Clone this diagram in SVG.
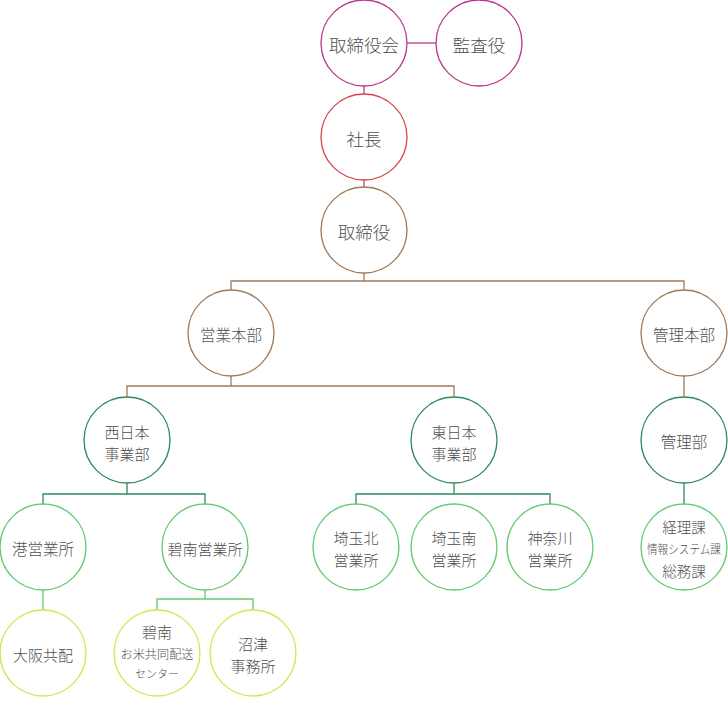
<svg xmlns="http://www.w3.org/2000/svg" width="728" height="707" viewBox="0 0 728 707">
<style>
  circle { fill: #ffffff; stroke-width: 1.3; }
  .c-mag { stroke: #b8388a; }
  .c-red { stroke: #d6454f; }
  .c-brn { stroke: #a07a58; }
  .c-dg { stroke: #2e8a5e; }
  .c-lg { stroke: #63c96e; }
  .c-yl { stroke: #dde050; }
  .conn path { fill: none; stroke-width: 1.3; }
  text { font-family: "Noto Sans CJK JP", "Noto Sans", sans-serif; font-weight: 300; fill: #505050; text-anchor: middle; dominant-baseline: central; }
  .t18 { font-size: 17.5px; }
  .t16 { font-size: 15.5px; }
  .t15 { font-size: 15px; }
  .t14 { font-size: 14.5px; }
  .t13 { font-size: 12.5px; }
  .t12 { font-size: 12.5px; }
  .t11 { font-size: 11px; }
</style>
<rect width="728" height="707" fill="#ffffff"/>
<g id="connectors" class="conn">
  <path d="M407 43 H436" stroke="#b8388a"/>
  <path d="M364 86 V94" stroke="#b8388a"/>
  <path d="M364 180 V187" stroke="#d6454f"/>
  <path d="M364 273 V281 M231 290 V281 H684 V290" stroke="#a07a58"/>
  <path d="M231 376 V386 M127 397 V386 H454 V397" stroke="#a07a58"/>
  <path d="M684 376 V397" stroke="#a07a58"/>
  <path d="M127 483 V494 M43 504 V494 H205 V504" stroke="#2e8a5e"/>
  <path d="M454 483 V494 M356 504 V494 H550 V504" stroke="#2e8a5e"/>
  <path d="M684 483 V504" stroke="#2e8a5e"/>
  <path d="M43 590 V610" stroke="#63c96e"/>
  <path d="M205 590 V599 M157 610 V599 H253 V610" stroke="#63c96e"/>
</g>
<g id="n-torishimariyakukai"><circle class="c-mag" cx="364" cy="43" r="43"/><text class="t18" x="364" y="44">取締役会</text></g>
<g id="n-kansayaku"><circle class="c-mag" cx="479" cy="43" r="43"/><text class="t18" x="479" y="44">監査役</text></g>
<g id="n-shacho"><circle class="c-red" cx="364" cy="137" r="43"/><text class="t18" x="364" y="138">社長</text></g>
<g id="n-torishimariyaku"><circle class="c-brn" cx="364" cy="230" r="43"/><text class="t18" x="364" y="231">取締役</text></g>
<g id="n-eigyohonbu"><circle class="c-brn" cx="231" cy="333" r="43"/><text class="t16" x="231" y="334">営業本部</text></g>
<g id="n-kanrihonbu"><circle class="c-brn" cx="684" cy="333" r="43"/><text class="t16" x="684" y="334">管理本部</text></g>
<g id="n-nishinihon"><circle class="c-dg" cx="127" cy="440" r="43"/><text class="t15" x="127" y="431">西日本</text><text class="t15" x="127" y="453">事業部</text></g>
<g id="n-higashinihon"><circle class="c-dg" cx="454" cy="440" r="43"/><text class="t15" x="454" y="431">東日本</text><text class="t15" x="454" y="453">事業部</text></g>
<g id="n-kanribu"><circle class="c-dg" cx="684" cy="440" r="43"/><text class="t16" x="684" y="441">管理部</text></g>
<g id="n-minato"><circle class="c-lg" cx="43" cy="547" r="43"/><text class="t16" x="43" y="548">港営業所</text></g>
<g id="n-hekinan"><circle class="c-lg" cx="205" cy="547" r="43"/><text class="t15" x="205" y="548">碧南営業所</text></g>
<g id="n-saitamakita"><circle class="c-lg" cx="356" cy="547" r="43"/><text class="t15" x="356" y="537">埼玉北</text><text class="t15" x="356" y="559">営業所</text></g>
<g id="n-saitamaminami"><circle class="c-lg" cx="454" cy="547" r="43"/><text class="t15" x="454" y="537">埼玉南</text><text class="t15" x="454" y="559">営業所</text></g>
<g id="n-kanagawa"><circle class="c-lg" cx="550" cy="547" r="43"/><text class="t15" x="550" y="537">神奈川</text><text class="t15" x="550" y="559">営業所</text></g>
<g id="n-keiri"><circle class="c-lg" cx="684" cy="547" r="43"/><text class="t14" x="684" y="526">経理課</text><text class="t13" x="684" y="548" textLength="74" lengthAdjust="spacingAndGlyphs">情報システム課</text><text class="t14" x="684" y="570">総務課</text></g>
<g id="n-osaka"><circle class="c-yl" cx="43" cy="653" r="43"/><text class="t15" x="43" y="654">大阪共配</text></g>
<g id="n-hekinankome"><circle class="c-yl" cx="157" cy="653" r="43"/><text class="t15" x="157" y="631">碧南</text><text class="t12" x="157" y="653" textLength="73" lengthAdjust="spacingAndGlyphs">お米共同配送</text><text class="t11" x="157" y="673">センター</text></g>
<g id="n-numazu"><circle class="c-yl" cx="253" cy="653" r="43"/><text class="t15" x="253" y="643">沼津</text><text class="t15" x="253" y="665">事務所</text></g>
</svg>
